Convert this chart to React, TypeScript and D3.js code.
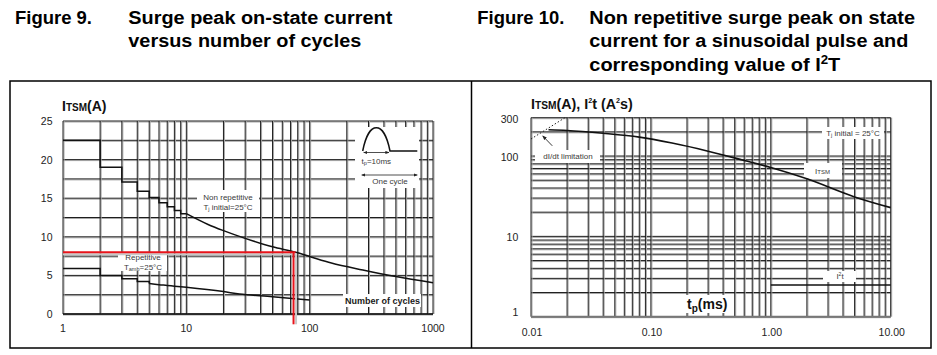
import React from "react";
import * as d3 from "d3";

const FONT = "'Liberation Sans', Arial, Helvetica, sans-serif";

// ---------- Figure 9 data ----------
const cyclesTicks = [1, 10, 100, 1000];
const cyclesTickLabels = ["1", "10", "100", "1000"];
const itsm9Ticks = [0, 5, 10, 15, 20, 25];
const itsm9Grid = [0, 2.5, 5, 7.5, 10, 12.5, 15, 17.5, 20, 22.5, 25];

const nonRepSteps: [number, number][] = [
  [1, 22.5], [2, 22.5], [2, 19.0], [3, 19.0], [3, 17.1], [4, 17.1], [4, 15.9], [5, 15.9],
  [5, 15.1], [6, 15.1], [6, 14.4], [7, 14.4], [7, 13.9], [8, 13.9], [8, 13.4], [9, 13.4],
  [9, 13.0], [10, 13.0],
];
const nonRepCurve: [number, number][] = [
  [10, 13.0], [15, 11.6], [20, 10.8], [30, 9.8], [50, 8.7], [77, 8.0], [100, 7.45],
  [150, 6.6], [270, 5.7], [500, 4.85], [1000, 4.05],
];
const repSteps: [number, number][] = [
  [1, 5.9], [2, 5.9], [2, 5.0], [3, 5.0], [3, 4.55], [4, 4.55], [4, 4.2], [5, 4.2], [5, 3.95],
];
const repCurve: [number, number][] = [
  [5, 3.95], [6, 3.8], [7, 3.7], [8, 3.6], [10, 3.45], [20, 2.9], [27, 2.6], [50, 2.25],
  [80, 1.95], [100, 1.8],
];
const redCurrent = 8;
const redCycles = 74;

// ---------- Figure 10 data ----------
const tpTicks = [0.01, 0.1, 1, 10];
const tpTickLabels = ["0.01", "0.10", "1.00", "10.00"];
const itsm10Ticks = [1, 10, 100, 300];
const itsmPulse: [number, number][] = [
  [0.014, 212], [0.02, 208], [0.04, 192], [0.08, 172], [0.15, 145], [0.3, 115],
  [0.6, 88], [1, 72], [2, 52], [5, 31], [10, 22.8],
];
const i2tLine: [number, number][] = [[1, 2.48], [10, 2.48]];
const didtLimit: [number, number][] = [[0.01, 163], [0.0192, 300]];
const didtArrow: [number, number][] = [[0.01505, 134], [0.01252, 178]];

function logGrid(min: number, max: number): number[] {
  const out: number[] = [];
  for (let k = Math.floor(Math.log10(min)); k <= Math.ceil(Math.log10(max)); k++) {
    for (let m = 1; m <= 9; m++) {
      const v = m * Math.pow(10, k);
      if (v >= min * 0.9999 && v <= max * 1.0001) out.push(v);
    }
  }
  return out;
}

type Sc = (v: number) => number;

function Grid({ xs, ys, x, y }: { xs: number[]; ys: number[]; x: any; y: any }) {
  const [x0, x1] = x.range();
  const [y0, y1] = y.range();
  return (
    <g>
      {ys.map((v, i) => (
        <g key={"h" + i}>
          <line x1={x0} x2={x1} y1={y(v) + 1} y2={y(v) + 1} stroke="#a8a8a8" strokeWidth={1} />
          <line x1={x0} x2={x1} y1={y(v)} y2={y(v)} stroke="#1e1e1e" strokeWidth={1} />
        </g>
      ))}
      {xs.map((v, i) => (
        <g key={"v" + i}>
          <line x1={x(v) + 1} x2={x(v) + 1} y1={y0} y2={y1} stroke="#a8a8a8" strokeWidth={1} />
          <line x1={x(v)} x2={x(v)} y1={y0} y2={y1} stroke="#1e1e1e" strokeWidth={1} />
        </g>
      ))}
    </g>
  );
}

function WhiteBox({ x0, x1, y0, y1 }: { x0: number; x1: number; y0: number; y1: number }) {
  return <rect x={x0} y={y0} width={x1 - x0} height={y1 - y0} fill="#fff" />;
}

export default function App() {
  // Figure 9 scales
  const x9 = d3.scaleLog().domain([1, 1000]).range([63, 433]);
  const y9 = d3.scaleLinear().domain([0, 25]).range([314, 121]);
  // Figure 10 scales
  const x10 = d3.scaleLog().domain([0.01, 10]).range([531, 890.7]);
  const y10 = d3.scaleLog().domain([1, 300]).range([316.7, 117.7]);

  const lin9 = d3.line<[number, number]>().x((d) => x9(d[0])).y((d) => y9(d[1]));
  const smooth9 = d3
    .line<[number, number]>()
    .x((d) => x9(d[0]))
    .y((d) => y9(d[1]))
    .curve(d3.curveMonotoneX);
  const smooth10 = d3
    .line<[number, number]>()
    .x((d) => x10(d[0]))
    .y((d) => y10(d[1]))
    .curve(d3.curveMonotoneX);
  const lin10 = d3.line<[number, number]>().x((d) => x10(d[0])).y((d) => y10(d[1]));

  const redX = x9(redCycles);
  const redY = y9(redCurrent);

  // inset (pulse icon) anchor
  const px0 = 362.7, px1 = 390, px2 = 417.3, pBase = 151, pPeak = 128;
  const pulsePath = `M${px0},${pBase} C${px0 + 6},${pPeak - 8} ${px1 - 6},${pPeak - 8} ${px1},${pBase} L${px2},${pBase}`;

  const tickStyle = { fontFamily: FONT, fontSize: 10.5, fill: "#222" } as const;
  const smallStyle = { fontFamily: FONT, fontSize: 8, fill: "#3a3a3a" } as const;
  const headStyle = { fontFamily: FONT, fontSize: 18, fontWeight: 700, fill: "#000" } as const;

  return (
    <svg
      width={937}
      height={355}
      viewBox="0 0 937 355"
      style={{ position: "absolute", left: 0, top: 0, background: "#fff" }}
    >
      <defs>
        <marker id="ah" viewBox="0 0 10 10" refX="9" refY="5" markerWidth="5" markerHeight="5" orient="auto-start-reverse">
          <path d="M0,1 L10,5 L0,9 z" fill="#222" />
        </marker>
      </defs>
      <rect x={0} y={0} width={937} height={355} fill="#fff" />

      {/* Headings */}
      <text x={15} y={24} {...headStyle} textLength={77} lengthAdjust="spacingAndGlyphs">Figure 9.</text>
      <text x={128.3} y={24} {...headStyle} textLength={264} lengthAdjust="spacingAndGlyphs">Surge peak on-state current</text>
      <text x={128.3} y={47.3} {...headStyle} textLength={233} lengthAdjust="spacingAndGlyphs">versus number of cycles</text>
      <text x={477.3} y={24} {...headStyle} textLength={87} lengthAdjust="spacingAndGlyphs">Figure 10.</text>
      <text x={589.3} y={24} {...headStyle} textLength={325.7} lengthAdjust="spacingAndGlyphs">Non repetitive surge peak on state</text>
      <text x={589.3} y={47.3} {...headStyle} textLength={319} lengthAdjust="spacingAndGlyphs">current for a sinusoidal pulse and</text>
      <text x={589.3} y={70.7} {...headStyle} textLength={251} lengthAdjust="spacingAndGlyphs">
        corresponding value of I<tspan fontSize={12} dy={-7}>2</tspan><tspan dy={7}>T</tspan>
      </text>

      {/* Frames */}
      <rect x={10} y={81} width={921} height={267} fill="none" stroke="#000" strokeWidth={1.5} />
      <line x1={471.5} x2={471.5} y1={81} y2={348} stroke="#000" strokeWidth={1.5} />

      {/* ================= Figure 9 ================= */}
      <Grid xs={logGrid(1, 1000)} ys={itsm9Grid} x={x9} y={y9} />
      <line x1={63} x2={433} y1={314} y2={314} stroke="#111" strokeWidth={1.3} />
      <WhiteBox x0={197} x1={259} y0={190} y1={212} />
      <WhiteBox x0={118} x1={167} y0={253} y1={271} />
      <WhiteBox x0={355} x1={419} y0={127} y1={188} />
      <WhiteBox x0={343} x1={421} y0={294} y1={307} />

      <path d={lin9(nonRepSteps) || ""} fill="none" stroke="#111" strokeWidth={1.5} />
      <path d={smooth9(nonRepCurve) || ""} fill="none" stroke="#111" strokeWidth={1.5} />
      <path d={lin9(repSteps) || ""} fill="none" stroke="#111" strokeWidth={1.5} />
      <path d={smooth9(repCurve) || ""} fill="none" stroke="#111" strokeWidth={1.5} />

      {/* red lines with shadow */}
      <line x1={x9(1)} x2={redX + 2} y1={redY + 2} y2={redY + 2} stroke="#c8c8c8" strokeWidth={2} />
      <line x1={redX + 2.5} x2={redX + 2.5} y1={redY + 2} y2={324.3} stroke="#c8c8c8" strokeWidth={2} />
      <line x1={x9(1)} x2={redX + 2} y1={redY} y2={redY} stroke="#e8141b" strokeWidth={2} />
      <line x1={redX} x2={redX} y1={redY} y2={324.3} stroke="#e8141b" strokeWidth={2} />

      {/* inset pulse */}
      <path d={pulsePath} fill="none" stroke="#111" strokeWidth={1.5} />
      <line x1={px0 + 1} x2={px1 - 1} y1={pBase + 1.5} y2={pBase + 1.5} stroke="#222" strokeWidth={0.8} markerStart="url(#ah)" markerEnd="url(#ah)" />
      <text x={(px0 + px1) / 2} y={163.5} textAnchor="middle" {...smallStyle}>
        t<tspan fontSize={5.5} dy={1.5}>p</tspan><tspan dy={-1.5}>=10ms</tspan>
      </text>
      <line x1={px0 - 1} x2={px2} y1={175} y2={175} stroke="#222" strokeWidth={0.8} markerStart="url(#ah)" markerEnd="url(#ah)" />
      <text x={(px0 + px2) / 2} y={184} textAnchor="middle" {...smallStyle}>One cycle</text>

      {/* labels */}
      <text x={228} y={200} textAnchor="middle" {...smallStyle}>Non repetitive</text>
      <text x={228} y={209.5} textAnchor="middle" {...smallStyle}>
        T<tspan fontSize={5.5} dy={1.5}>j</tspan><tspan dy={-1.5}> initial=25°C</tspan>
      </text>
      <text x={143} y={260} textAnchor="middle" {...smallStyle}>Repetitive</text>
      <text x={143} y={269.5} textAnchor="middle" {...smallStyle}>
        T<tspan fontSize={5.5} dy={1.5}>amb</tspan><tspan dy={-1.5}>=25°C</tspan>
      </text>
      <text x={345} y={303.5} fontFamily={FONT} fontSize={9} fontWeight={700} fill="#1a1a1a">Number of cycles</text>

      {/* axis title */}
      <text x={62} y={111} fontFamily={FONT} fontWeight={700} fill="#111" fontSize={14}>
        I<tspan fontSize={10}>TSM</tspan>(A)
      </text>

      {/* ticks */}
      {itsm9Ticks.map((v) => (
        <text key={"y9" + v} x={52.5} y={y9(v)} textAnchor="end" dominantBaseline="central" {...tickStyle}>{v}</text>
      ))}
      {cyclesTicks.map((v, i) => (
        <text key={"x9" + v} x={x9(v)} y={327.5} textAnchor="middle" dominantBaseline="central" {...tickStyle}>{cyclesTickLabels[i]}</text>
      ))}

      {/* ================= Figure 10 ================= */}
      <Grid xs={logGrid(0.01, 10)} ys={logGrid(1, 300)} x={x10} y={y10} />
      <line x1={531} x2={890.7} y1={316.7} y2={316.7} stroke="#777" strokeWidth={2} />
      <WhiteBox x0={535} x1={600} y0={150} y1={163} />
      <WhiteBox x0={822} x1={884} y0={127} y1={139} />
      <WhiteBox x0={804} x1={842} y0={163} y1={178} />
      <WhiteBox x0={823} x1={856} y0={271} y1={282} />
      <WhiteBox x0={684} x1={731} y0={295} y1={313} />

      <path d={smooth10(itsmPulse) || ""} fill="none" stroke="#111" strokeWidth={1.6} />
      <path d={lin10(i2tLine) || ""} fill="none" stroke="#111" strokeWidth={1.4} />
      <path d={lin10(didtLimit) || ""} fill="none" stroke="#222" strokeWidth={1} strokeDasharray="1.5,2" />
      <line
        x1={x10(didtArrow[0][0])}
        y1={y10(didtArrow[0][1])}
        x2={x10(didtArrow[1][0])}
        y2={y10(didtArrow[1][1])}
        stroke="#222"
        strokeWidth={0.9}
        markerEnd="url(#ah)"
      />

      <text x={568} y={159} textAnchor="middle" {...smallStyle}>dI/dt limitation</text>
      <text x={853} y={135.5} textAnchor="middle" {...smallStyle}>
        T<tspan fontSize={5.5} dy={1.5}>j</tspan><tspan dy={-1.5}> initial = 25°C</tspan>
      </text>
      <text x={822.5} y={173.5} textAnchor="middle" {...smallStyle}>
        I<tspan fontSize={6}>TSM</tspan>
      </text>
      <text x={840} y={279} textAnchor="middle" {...smallStyle}>
        I<tspan fontSize={5} dy={-3}>2</tspan><tspan dy={3}>t</tspan>
      </text>
      <text x={687} y={309} fontFamily={FONT} fontWeight={700} fill="#111" fontSize={14}>
        t<tspan fontSize={10} dy={3}>p</tspan><tspan dy={-3}>(ms)</tspan>
      </text>

      <text x={531} y={109} fontFamily={FONT} fontWeight={700} fill="#111" fontSize={14} textLength={101.7} lengthAdjust="spacingAndGlyphs">
        I<tspan fontSize={10}>TSM</tspan>(A), I<tspan fontSize={7} dy={-6}>2</tspan><tspan dy={6}>t (A</tspan><tspan fontSize={7} dy={-6}>2</tspan><tspan dy={6}>s)</tspan>
      </text>

      {itsm10Ticks.map((v) => (
        <text key={"y10" + v} x={518.3} y={Math.min(y10(v) + 1, 311.7)} textAnchor="end" dominantBaseline="central" {...tickStyle}>{v}</text>
      ))}
      {tpTicks.map((v, i) => (
        <text key={"x10" + v} x={x10(v) + 1} y={331.7} textAnchor="middle" dominantBaseline="central" {...tickStyle}>{tpTickLabels[i]}</text>
      ))}
    </svg>
  );
}
